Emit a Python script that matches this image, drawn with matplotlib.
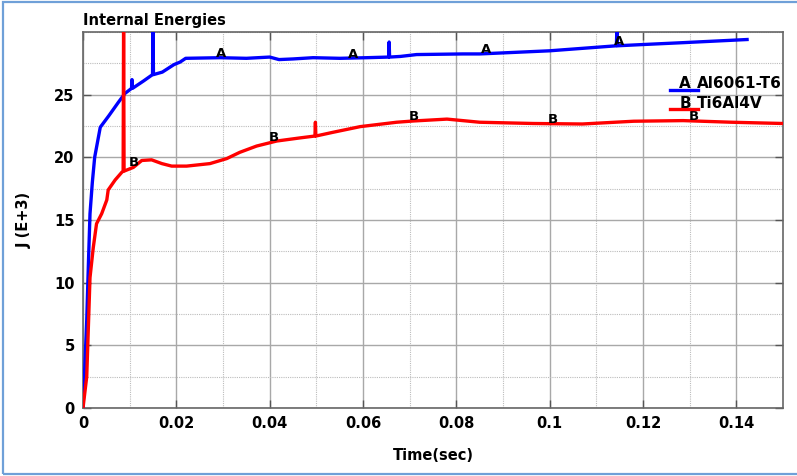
import numpy as np
import matplotlib
matplotlib.use("Agg")
import matplotlib.pyplot as plt
from matplotlib.patches import Rectangle
from matplotlib.lines import Line2D
from matplotlib.ticker import MultipleLocator

# Series A: Al6061-T6 (blue)
t_a = [0.0, 0.0003, 0.0008, 0.0012, 0.0015, 0.002, 0.0025, 0.0037, 0.0055, 0.0076,
       0.009, 0.0104, 0.0105, 0.0106, 0.013, 0.0149, 0.015, 0.0151, 0.017, 0.0195,
       0.0208, 0.022, 0.0294, 0.035, 0.040, 0.042, 0.045, 0.0493, 0.055, 0.0608,
       0.0655, 0.0656, 0.0657, 0.068, 0.0715, 0.0814, 0.085, 0.1, 0.1143, 0.1144,
       0.1145, 0.12, 0.1286, 0.1423]
v_a = [0.0, 2.5, 7.0, 12.0, 15.5, 18.0, 20.0, 22.4, 23.3, 24.4,
       25.1, 25.5, 26.2, 25.5, 26.1, 26.6, 30.5, 26.6, 26.8, 27.4,
       27.6, 27.9, 27.95, 27.9, 28.0, 27.8, 27.85, 27.95, 27.9, 27.95,
       28.0, 29.2, 28.0, 28.05, 28.2, 28.25, 28.25, 28.5, 28.9, 30.2,
       28.9, 29.0, 29.15, 29.4]

# Series B: Ti6Al4V (red)
t_b = [0.0, 0.0008, 0.0015, 0.0022, 0.0029, 0.004, 0.0051, 0.0054, 0.0069, 0.0083,
       0.0086, 0.0087, 0.0088, 0.0108, 0.0126, 0.0147, 0.0169, 0.019, 0.0222, 0.0272,
       0.0308, 0.0336, 0.0372, 0.0415, 0.0465, 0.0497, 0.0498, 0.0499, 0.0536, 0.0594,
       0.0672, 0.0708, 0.078, 0.085, 0.0965, 0.107, 0.118, 0.1286, 0.139, 0.15]
v_b = [0.0, 2.5, 10.4, 12.8, 14.7, 15.5, 16.6, 17.4, 18.2, 18.8,
       18.9, 31.0, 18.9, 19.2, 19.75, 19.8, 19.5, 19.3, 19.3, 19.5,
       19.9, 20.4, 20.9, 21.3, 21.55, 21.7, 22.8, 21.7, 22.0, 22.45,
       22.8, 22.9, 23.05, 22.8, 22.7, 22.66, 22.88, 22.93, 22.8, 22.7]

label_t_a = [0.0296, 0.0579, 0.0863, 0.1148]
label_t_b = [0.0109, 0.0409, 0.0709, 0.1007, 0.1309]

series_names = ["A  Al6061-T6", "B  Ti6Al4V"]
x_ticks = [0, 0.02, 0.04, 0.06, 0.08, 0.1, 0.12, 0.14]
x_tick_labels = ["0", "0.02", "0.04", "0.06", "0.08", "0.1", "0.12", "0.14"]
y_ticks = [0, 5, 10, 15, 20, 25]

W, H = 797, 476
fig = plt.figure(figsize=(W / 100, H / 100), dpi=100)
ax = fig.add_axes([83 / W, 1 - 408 / H, 700 / W, 376 / H])

blue = "#0000ff"
red = "#ff0000"

ax.plot(t_a, v_a, color=blue, lw=2.4, solid_joinstyle="round", zorder=3)
ax.plot(t_b, v_b, color=red, lw=2.4, solid_joinstyle="round", zorder=3)

def smooth(ts, vs):
    ts = np.asarray(ts); vs = np.asarray(vs)
    keep = np.ones(len(ts), bool)
    for i in range(1, len(ts) - 1):
        if vs[i] - max(vs[i - 1], vs[i + 1]) > 0.5:
            keep[i] = False
    return ts[keep], vs[keep]

sa = smooth(t_a, v_a)
sb = smooth(t_b, v_b)
for t in label_t_a:
    ax.annotate("A", (t, np.interp(t, *sa)), xytext=(0, 4), textcoords="offset pixels",
                ha="center", va="center", fontsize=9.5, fontweight="bold", zorder=4)
for t in label_t_b:
    ax.annotate("B", (t, np.interp(t, *sb)), xytext=(0, 4), textcoords="offset pixels",
                ha="center", va="center", fontsize=9.5, fontweight="bold", zorder=4)

ax.set_xlim(0, 0.15)
ax.set_ylim(0, 30)
ax.set_xticks(x_ticks)
ax.set_xticklabels(x_tick_labels)
ax.set_yticks(y_ticks)
ax.xaxis.set_minor_locator(MultipleLocator(0.01))
ax.yaxis.set_minor_locator(MultipleLocator(2.5))
ax.grid(which="major", color="#a8a8a8", lw=1.0, ls="-")
ax.grid(which="minor", color="#bcbcbc", lw=0.8, ls=(0, (1, 1)))
ax.set_axisbelow(True)
ax.tick_params(which="major", direction="in", length=6, width=1, color="#555555",
               top=True, right=True, pad=6)
ax.tick_params(which="minor", length=0)
for lab in ax.get_xticklabels() + ax.get_yticklabels():
    lab.set_fontweight("bold")
    lab.set_fontsize(10.5)
for sp in ax.spines.values():
    sp.set_color("#666666")
    sp.set_linewidth(1.2)

ax.set_xlabel("Time(sec)", fontsize=10.5, fontweight="bold", labelpad=12)
ax.set_ylabel("J (E+3)", fontsize=10.5, fontweight="bold", labelpad=16)
fig.text(83 / W, 1 - 20 / H, "Internal Energies", fontsize=10.5, fontweight="bold",
         ha="left", va="center")

# Legend drawn manually
colors = [blue, red]
rows_y = [84, 103]
for name, c, yy in zip(series_names, colors, rows_y):
    fig.add_artist(Line2D([670 / W, 698 / W], [1 - (yy + 6) / H, 1 - (yy + 6) / H],
                          color=c, lw=2.4))
    letter, label = name.split("  ")
    fig.text(685 / W, 1 - yy / H, letter, fontsize=11, fontweight="bold",
             ha="center", va="center")
    fig.text(697 / W, 1 - yy / H, label, fontsize=11, fontweight="bold",
             ha="left", va="center")

# Figure border
fig.add_artist(Rectangle((3 / W, 1 - 474 / H), 800 / W, 472 / H, transform=fig.transFigure,
                         fill=False, edgecolor="#6fa0d8", lw=1.6))

fig.savefig("out.png", dpi=100)
